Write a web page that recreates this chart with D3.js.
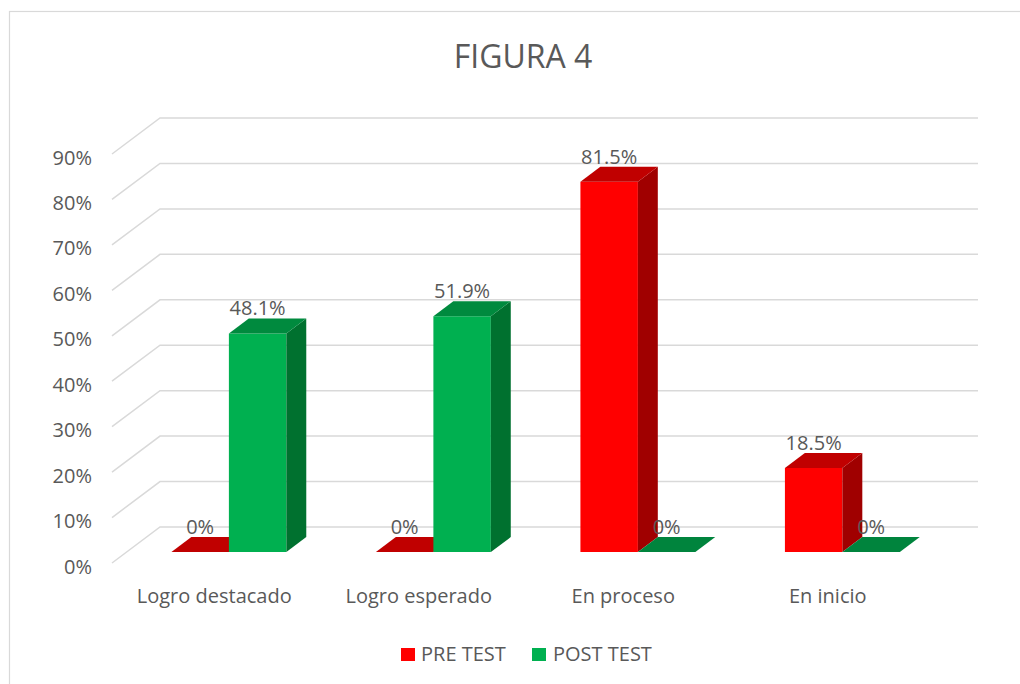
<!DOCTYPE html>
<html>
<head>
<meta charset="utf-8">
<script src="https://cdn.jsdelivr.net/npm/d3@7"></script>
<style>
  html, body { margin: 0; padding: 0; background: #ffffff; }
  svg { display: block; }
  text { font-family: "Open Sans", Lato, sans-serif; fill: #595959; }
</style>
</head>
<body>
<svg id="chart" width="1020" height="684"></svg>
<script>
// ---- data ----
const categories = ["Logro destacado", "Logro esperado", "En proceso", "En inicio"];
const seriesNames = ["PRE TEST", "POST TEST"];
const preTest  = [0, 0, 0.815, 0.185];
const postTest = [0.481, 0.519, 0, 0];
const dataLabels = [["0%", "0%", "81.5%", "18.5%"], ["48.1%", "51.9%", "0%", "0%"]];
const yTicks = [0, 0.1, 0.2, 0.3, 0.4, 0.5, 0.6, 0.7, 0.8, 0.9];
const yTickLabels = ["0%", "10%", "20%", "30%", "40%", "50%", "60%", "70%", "80%", "90%"];
const title = "FIGURA 4";

// ---- styling / layout ----
const palette = [
  { front: "#ff0000", top: "#c00000", side: "#a00000" },
  { front: "#00b050", top: "#008a3e", side: "#00712f" }
];
const svg = d3.select("#chart");

// chart border (only left and top edges are visible in the frame)
svg.append("rect")
  .attr("x", 9.5).attr("y", 11.5).attr("width", 1040).attr("height", 700)
  .attr("fill", "none").attr("stroke", "#d9d9d9").attr("stroke-width", 1.2);

const frontY0 = 563;          // front floor line (value 0)
const depth = { dx: 48, dy: -36 };
const x = d3.scaleBand().domain(categories).range([112, 930]);
const h = d3.scaleLinear().domain([0, 0.9]).range([0, 409]);
const zFront = 0.305, zBack = 0.72;
const barW = x.bandwidth() * 0.281;

// projection of (screen x on front plane, value, depth z)
function P(px, v, z) {
  return [px + depth.dx * z, frontY0 - h(v) + depth.dy * z];
}

// gridlines: left wall + back wall
const grid = svg.append("g");
yTicks.forEach(v => {
  const a = P(112, v, 0), b = P(112, v, 1), c = P(930, v, 1);
  grid.append("polyline")
    .attr("points", [a, b, c].map(p => p.join(",")).join(" "))
    .attr("fill", "none").attr("stroke", "#d9d9d9").attr("stroke-width", 1.5);
});

// y axis labels
svg.append("g").selectAll("text").data(yTicks).join("text")
  .attr("x", 92)
  .attr("y", d => P(112, d, 0)[1] + 3)
  .attr("text-anchor", "end")
  .attr("dominant-baseline", "central")
  .attr("font-size", 20)
  .text((d, i) => yTickLabels[i]);

// bars
const series = [preTest, postTest];
const bars = svg.append("g");
const labels = [];
categories.forEach((cat, ci) => {
  const groupStart = x(cat) + (x.bandwidth() - 2 * barW) / 2;
  series.forEach((vals, si) => {
    const v = vals[ci];
    const x0 = groupStart + si * barW, x1 = x0 + barW;
    const col = palette[si];
    const poly = pts => pts.map(p => p.join(",")).join(" ");
    if (v > 0) {
      bars.append("polygon")
        .attr("points", poly([P(x0, 0, zFront), P(x1, 0, zFront), P(x1, v, zFront), P(x0, v, zFront)]))
        .attr("fill", col.front);
      bars.append("polygon")
        .attr("points", poly([P(x1, 0, zFront), P(x1, 0, zBack), P(x1, v, zBack), P(x1, v, zFront)]))
        .attr("fill", col.side);
    }
    bars.append("polygon")
      .attr("points", poly([P(x0, v, zFront), P(x1, v, zFront), P(x1, v, zBack), P(x0, v, zBack)]))
      .attr("fill", v > 0 ? col.top : (si === 0 ? "#c00000" : "#00843d"));
    const lp = P((x0 + x1) / 2, v, zBack);
    labels.push({ x: lp[0] - depth.dx * (zBack - zFront), y: lp[1] - 3, t: dataLabels[si][ci] });
  });
});

// data labels
svg.append("g").selectAll("text").data(labels).join("text")
  .attr("x", d => d.x).attr("y", d => d.y)
  .attr("text-anchor", "middle")
  .attr("font-size", 20)
  .text(d => d.t);

// category labels
svg.append("g").selectAll("text").data(categories).join("text")
  .attr("x", d => x(d) + x.bandwidth() / 2)
  .attr("y", 603)
  .attr("text-anchor", "middle")
  .attr("font-size", 20)
  .text(d => d);

// title
svg.append("text")
  .attr("x", 523).attr("y", 68)
  .attr("text-anchor", "middle")
  .attr("font-size", 32)
  .text(title);

// legend
const legendItems = [{ x: 401, tx: 421 }, { x: 532, tx: 553 }];
const lg = svg.append("g");
seriesNames.forEach((name, i) => {
  lg.append("rect").attr("x", legendItems[i].x).attr("y", 648)
    .attr("width", 14).attr("height", 13).attr("fill", palette[i].front);
  lg.append("text").attr("x", legendItems[i].tx).attr("y", 661)
    .attr("font-size", 20).text(name);
});
</script>
</body>
</html>
